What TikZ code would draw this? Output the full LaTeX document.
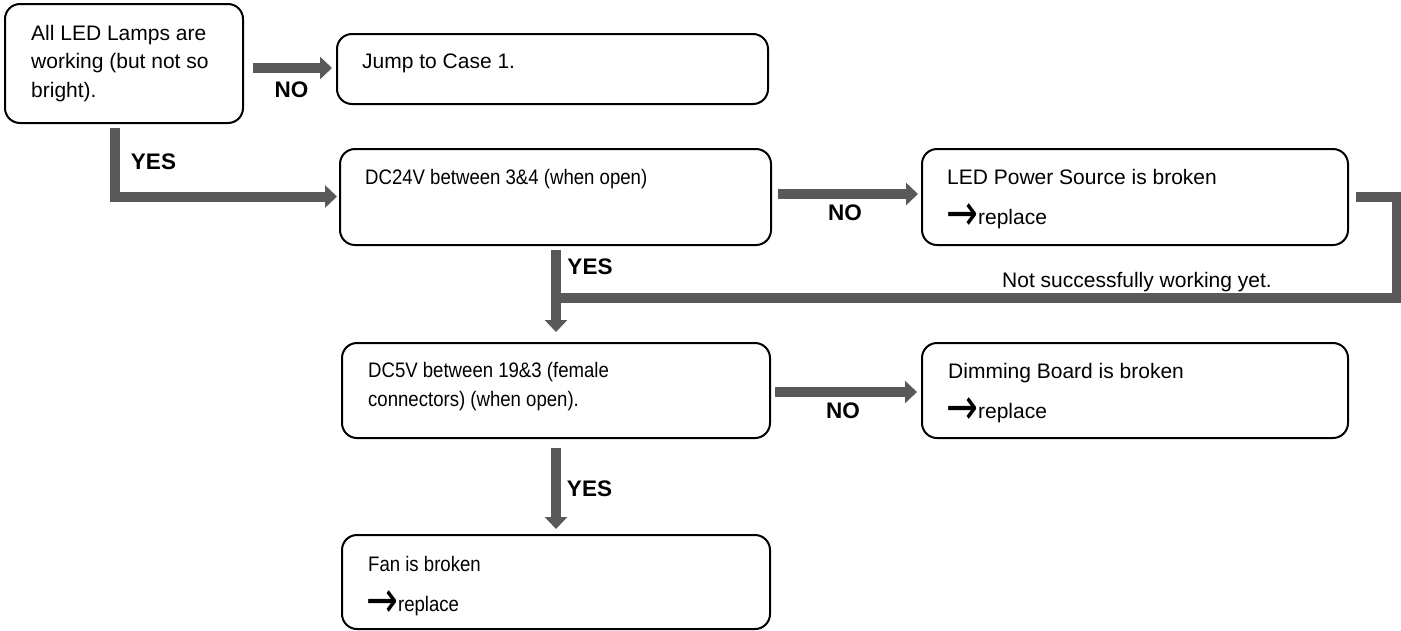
\documentclass[tikz,border=0pt]{standalone}
\usepackage{fontspec}
\usepackage{graphicx}
\setmainfont{Liberation Sans}
\newfontfamily\narrowfont[FakeStretch=0.885]{Liberation Sans}
\newfontfamily\symfont{DejaVu Sans}
\usetikzlibrary{arrows.meta,calc}
\definecolor{flowgray}{RGB}{89,89,89}
\newcommand{\repl}{\raisebox{-6pt}{\scalebox{1.12}[1.5]{\symfont\fontsize{34}{34}\selectfont →}}replace}
\begin{document}
\begin{tikzpicture}[x=1pt,y=-1pt,
  box/.style={draw=black,line width=2pt,rounded corners=15pt,inner sep=0pt},
  txt/.style={anchor=base west,inner sep=0pt,font=\fontsize{21}{28}\selectfont},
  ntxt/.style={anchor=base west,inner sep=0pt,font=\narrowfont\fontsize{21}{28}\selectfont},
  flow/.style={draw=flowgray,line width=10pt,line join=miter,-{Triangle[width=22pt,length=12pt]}},
  loopline/.style={draw=flowgray,line width=10pt,line join=miter},
  lbl/.style={inner sep=0pt,font=\bfseries\fontsize{22.5}{27}\selectfont}]
\fill[white] (0,0) rectangle (1401,630);
\useasboundingbox (0,0) rectangle (1401,630);

% boxes
\node[box,minimum width=238pt,minimum height=119pt] (b1) at (124,63.5) {};
\node[box,minimum width=431pt,minimum height=70pt]  (b2) at (552.5,69) {};
\node[box,minimum width=431pt,minimum height=96pt]  (b3) at (555.5,197) {};
\node[box,minimum width=426pt,minimum height=96pt]  (b4) at (1135,197) {};
\node[box,minimum width=428pt,minimum height=95pt]  (b5) at (556,390.5) {};
\node[box,minimum width=426pt,minimum height=95pt]  (b6) at (1135,390.5) {};
\node[box,minimum width=428pt,minimum height=94pt]  (b7) at (556,582) {};

% texts
\node[txt] (t1a) at (31,40) {All LED Lamps are};
\node[txt] (t1b) at (31,68.5) {working (but not so};
\node[txt] (t1c) at (31,97) {bright).};
\node[txt] (t2) at (362,68) {Jump to Case 1.};
\node[ntxt] (t3) at (365,184.5) {DC24V between 3\&4 (when open)};
\node[txt] (t4a) at (947,184) {LED Power Source is broken};
\node[txt] (t4b) at (946,224) {\repl};
\node[ntxt] (t5a) at (368,377.5) {DC5V between 19\&3 (female};
\node[ntxt] (t5b) at (368,406.5) {connectors) (when open).};
\node[txt] (t6a) at (948,378) {Dimming Board is broken};
\node[txt] (t6b) at (946,418) {\repl};
\node[ntxt] (t7a) at (368,571) {Fan is broken};
\node[ntxt] (t7b) at (366,611) {\repl};
\node[txt] (tloop) at (1002,287) {Not successfully working yet.};

% connectors
\draw[flow] ($(b1.east)+(9,4.5)$) -- ($(b2.west)+(-4,-1)$);
\draw[flow] ($(b1.south)+(-9,4)$) |- ($(b3.west)+(-2,-0.5)$);
\draw[flow] ($(b3.east)+(6,-3)$) -- ($(b4.west)+(-3,-3)$);
\draw[flow] ($(b3.south)+(0.5,4)$) -- ($(b5.north)+(0,-10)$);
\coordinate (join) at ($(b3.south)+(0.5,51.5)$);
\draw[loopline] ($(b4.east)+(7,0)$) -- ++(40.5,0) |- (join);
\draw[flow] ($(b5.east)+(4,1.5)$) -- ($(b6.west)+(-4,1.5)$);
\draw[flow] ($(b5.south)+(0,9)$) -- ($(b7.north)+(0,-5)$);

% labels
\node[lbl] (no1) at (291.5,89.5) {NO};
\node[lbl] (yes1) at (153.5,162) {YES};
\node[lbl] (no2) at (845,213) {NO};
\node[lbl] (yes2) at (590,266.5) {YES};
\node[lbl] (no3) at (843,411) {NO};
\node[lbl] (yes3) at (589.5,488.5) {YES};
\end{tikzpicture}
\end{document}
